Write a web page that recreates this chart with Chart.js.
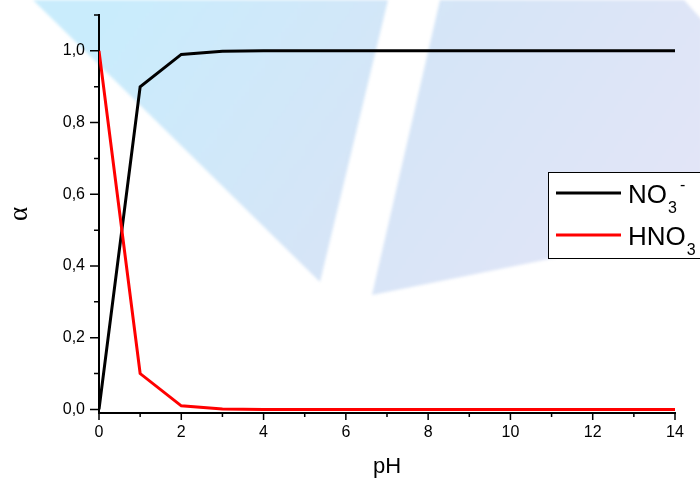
<!DOCTYPE html>
<html>
<head>
<meta charset="utf-8">
<script src="https://cdn.jsdelivr.net/npm/chart.js@4.4.1/dist/chart.umd.min.js"></script>
<style>
  html, body { margin: 0; padding: 0; background: #fff; overflow: hidden; }
  #wrap { width: 700px; height: 480px; position: relative; }
</style>
</head>
<body>
<div id="wrap"><canvas id="chart"></canvas></div>
<script>
// Values
const pH = [0, 1, 2, 3, 4, 5, 6, 7, 8, 9, 10, 11, 12, 13, 14];
const alphaNO3 = [0, 0.9, 0.99, 0.999, 1, 1, 1, 1, 1, 1, 1, 1, 1, 1, 1];
const alphaHNO3 = [1, 0.1, 0.01, 0.001, 0, 0, 0, 0, 0, 0, 0, 0, 0, 0, 0];
const xTickValues = [0, 1, 2, 3, 4, 5, 6, 7, 8, 9, 10, 11, 12, 13, 14];
const yTickValues = [0, 0.1, 0.2, 0.3, 0.4, 0.5, 0.6, 0.7, 0.8, 0.9, 1.0, 1.1];
const seriesNames = ['NO3-', 'HNO3'];
const legendParts = [
    { base: 'NO', sub: '3', sup: '-' },
    { base: 'HNO', sub: '3', sup: '' }
];

const FONT = "'Liberation Sans', Arial, sans-serif";

const toPoints = (ys) => pH.map((x, i) => ({ x: x, y: ys[i] }));

// light blue shapes behind the plot
const watermark = {
    id: 'watermark',
    beforeDraw(chart) {
        const ctx = chart.ctx;
        ctx.save();
        ctx.filter = 'blur(1.5px)';
        const g = ctx.createLinearGradient(120, 0, 600, 320);
        g.addColorStop(0, '#c9ecfc');
        g.addColorStop(0.5, '#d5e5f7');
        g.addColorStop(1, '#e2e5f7');
        ctx.fillStyle = g;
        ctx.beginPath();
        ctx.moveTo(33, 0); ctx.lineTo(388, 0); ctx.lineTo(320, 282);
        ctx.closePath(); ctx.fill();
        ctx.beginPath();
        ctx.moveTo(440, 0); ctx.lineTo(684, 0); ctx.lineTo(702, 20);
        ctx.lineTo(702, 228); ctx.lineTo(372, 295);
        ctx.closePath(); ctx.fill();
        ctx.restore();
    }
};

// major / minor tick marks (outside)
const axisTicks = {
    id: 'axisTicks',
    afterDraw(chart) {
        const ctx = chart.ctx;
        const xs = chart.scales.x, ys = chart.scales.y;
        const area = chart.chartArea;
        ctx.save();
        ctx.strokeStyle = '#000';
        ctx.lineWidth = 1.5;
        ctx.beginPath();
        xTickValues.forEach(v => {
            const px = xs.getPixelForValue(v);
            const len = v % 2 === 0 ? 7 : 4;
            ctx.moveTo(px, area.bottom); ctx.lineTo(px, area.bottom + len);
        });
        yTickValues.forEach(v => {
            const py = ys.getPixelForValue(v);
            const len = Math.round(v * 10) % 2 === 0 && v <= 1.0 ? 9 : 5;
            ctx.moveTo(area.left, py); ctx.lineTo(area.left - len, py);
        });
        ctx.stroke();
        ctx.restore();
    }
};

// legend box with sub/superscripts
const chemLegend = {
    id: 'chemLegend',
    afterDraw(chart) {
        const ctx = chart.ctx;
        ctx.save();
        ctx.fillStyle = '#fff';
        ctx.fillRect(548.5, 172.5, 200, 86);
        ctx.strokeStyle = '#000';
        ctx.lineWidth = 1;
        ctx.strokeRect(548.5, 172.5, 200, 86);
        chart.data.datasets.forEach((ds, i) => {
            const y = 193 + 42 * i;
            ctx.strokeStyle = ds.borderColor;
            ctx.lineWidth = 3;
            ctx.beginPath();
            ctx.moveTo(556, y); ctx.lineTo(621, y);
            ctx.stroke();
            const p = legendParts[i];
            const base = y + 10;
            ctx.fillStyle = '#000';
            ctx.textBaseline = 'alphabetic';
            ctx.textAlign = 'left';
            ctx.font = '26px ' + FONT;
            ctx.fillText(p.base, 628, base);
            let x = 628 + ctx.measureText(p.base).width + 1;
            ctx.font = '16px ' + FONT;
            ctx.fillText(p.sub, x, base + 10);
            x += ctx.measureText(p.sub).width + 3;
            if (p.sup) ctx.fillText(p.sup, x, base - 13);
        });
        ctx.restore();
    }
};

new Chart(document.getElementById('chart').getContext('2d'), {
    type: 'line',
    data: {
        datasets: [{
            label: seriesNames[0],
            data: toPoints(alphaNO3),
            borderColor: '#000000',
            borderWidth: 3,
            pointRadius: 0,
            tension: 0,
            order: 1
        }, {
            label: seriesNames[1],
            data: toPoints(alphaHNO3),
            borderColor: '#ff0000',
            borderWidth: 3,
            pointRadius: 0,
            tension: 0,
            order: 0
        }]
    },
    options: {
        responsive: true,
        maintainAspectRatio: false,
        animation: false,
        layout: { padding: { left: 0, top: 15, right: 25, bottom: 0 } },
        plugins: { legend: { display: false }, tooltip: { enabled: false } },
        scales: {
            x: {
                type: 'linear',
                min: 0,
                max: 14,
                afterBuildTicks: (s) => { s.ticks = xTickValues.map(v => ({ value: v })); },
                afterFit: (s) => { s.height = 67; },
                ticks: {
                    autoSkip: false,
                    maxRotation: 0,
                    color: '#000',
                    font: { family: FONT, size: 16 },
                    padding: 3,
                    callback: (v) => (v % 2 === 0 ? String(v) : '')
                },
                grid: { drawOnChartArea: false, tickLength: 7, tickColor: 'rgba(0,0,0,0)' },
                border: { color: '#000', width: 2 },
                title: {
                    display: true,
                    text: 'pH',
                    color: '#000',
                    font: { family: FONT, size: 22 },
                    padding: { top: 0, bottom: 0 }
                }
            },
            y: {
                min: -0.01,
                max: 1.1,
                afterBuildTicks: (s) => { s.ticks = yTickValues.map(v => ({ value: v })); },
                afterFit: (s) => { s.width = 99; },
                ticks: {
                    autoSkip: false,
                    color: '#000',
                    font: { family: FONT, size: 16 },
                    padding: 4,
                    callback: (v) => {
                        const t = Math.round(v * 10);
                        return (t % 2 === 0 && t <= 10) ? (t / 10).toFixed(1).replace('.', ',') : '';
                    }
                },
                grid: { drawOnChartArea: false, tickLength: 10, tickColor: 'rgba(0,0,0,0)' },
                border: { color: '#000', width: 2 },
                title: {
                    display: true,
                    text: 'α',
                    color: '#000',
                    font: { family: "'Liberation Serif', serif", size: 27 },
                    padding: { top: 4, bottom: 0 }
                }
            }
        }
    },
    plugins: [watermark, axisTicks, chemLegend]
});
</script>
</body>
</html>
